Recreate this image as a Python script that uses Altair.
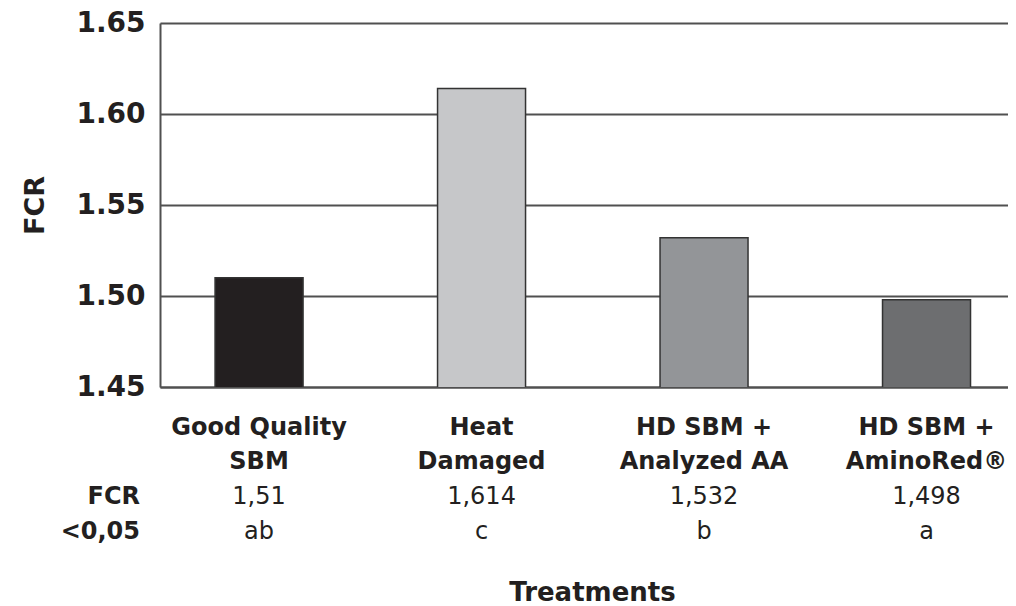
import altair as alt
import pandas as pd

# ---- data ----
categories = ["Good Quality\nSBM", "Heat\nDamaged", "HD SBM +\nAnalyzed AA", "HD SBM +\nAminoRed®"]
fcr_values = [1.51, 1.614, 1.532, 1.498]
fcr_labels = ["1,51", "1,614", "1,532", "1,498"]
sig_letters = ["ab", "c", "b", "a"]
bar_colors = ["#231f20", "#c6c7c9", "#939598", "#6d6e70"]
y_ticks = [1.45, 1.50, 1.55, 1.60, 1.65]
row_headers = ["FCR", "<0,05"]

df = pd.DataFrame({
    "cat": categories,
    "fcr": fcr_values,
    "fcr_label": fcr_labels,
    "sig": sig_letters,
})

FONT = "DejaVu Sans"
TXT = "#231f20"
LINE = "#505050"

x_enc = alt.X(
    "cat:N",
    sort=categories,
    scale=alt.Scale(paddingInner=0.6045, paddingOuter=0.208, align=0.595),
    axis=alt.Axis(
        title="Treatments",
        titleFont=FONT, titleFontSize=26, titleFontWeight="bold", titleColor=TXT,
        titleX=432, titleY=213, titleBaseline="alphabetic", titleAlign="center",
        labelExpr="split(datum.label, '\\n')",
        labelFont=FONT, labelFontSize=24, labelFontWeight="bold", labelColor=TXT,
        labelBaseline="alphabetic", labelPadding=47, labelLineHeight=34,
        labelAngle=0, labelAlign="center",
        ticks=False, tickSize=0,
        domain=True, domainColor=LINE, domainWidth=2,
        grid=False,
    ),
)

bars = alt.Chart(df).mark_bar(stroke="#333333", strokeWidth=1.5, clip=True).encode(
    x=x_enc,
    y=alt.Y(
        "fcr:Q",
        scale=alt.Scale(domain=[1.45, 1.65], nice=False, zero=False),
        axis=alt.Axis(
            title="FCR", values=y_ticks, format=".2f",
            titleFont=FONT, titleFontSize=27, titleFontWeight="bold", titleColor=TXT,
            titleX=-125, titleY=182, titleBaseline="middle", titleAlign="center", titleAngle=270,
            labelFont=FONT, labelFontSize=28, labelFontWeight="bold", labelColor=TXT,
            labelPadding=15,
            ticks=False, tickSize=0,
            domain=True, domainColor=LINE, domainWidth=2,
            grid=True, gridColor=LINE, gridWidth=2,
        ),
    ),
    color=alt.Color("cat:N", scale=alt.Scale(domain=categories, range=bar_colors), legend=None),
)

fcr_row = alt.Chart(df).mark_text(
    font=FONT, fontSize=24, color=TXT, baseline="alphabetic", align="center"
).encode(x=alt.X("cat:N", sort=categories), y=alt.value(481), text="fcr_label:N")

sig_row = alt.Chart(df).mark_text(
    font=FONT, fontSize=24, color=TXT, baseline="alphabetic", align="center"
).encode(x=alt.X("cat:N", sort=categories), y=alt.value(516), text="sig:N")

hdr_df = pd.DataFrame({"hdr": row_headers, "ypos": [481, 516]})
headers = alt.Chart(hdr_df).mark_text(
    font=FONT, fontSize=24, fontWeight="bold", color=TXT, baseline="alphabetic", align="right"
).encode(x=alt.value(-20), y=alt.Y("ypos:Q", scale=None), text="hdr:N")

chart = alt.layer(bars, fcr_row, sig_row, headers).properties(
    width=848, height=364,
    autosize=alt.AutoSizeParams(type="none"),
    padding={"left": 152, "top": 15, "right": 0, "bottom": 220},
).configure_view(stroke=None).configure(background="white")

chart.save("out.html", embed_options={"renderer": "svg", "actions": False})
